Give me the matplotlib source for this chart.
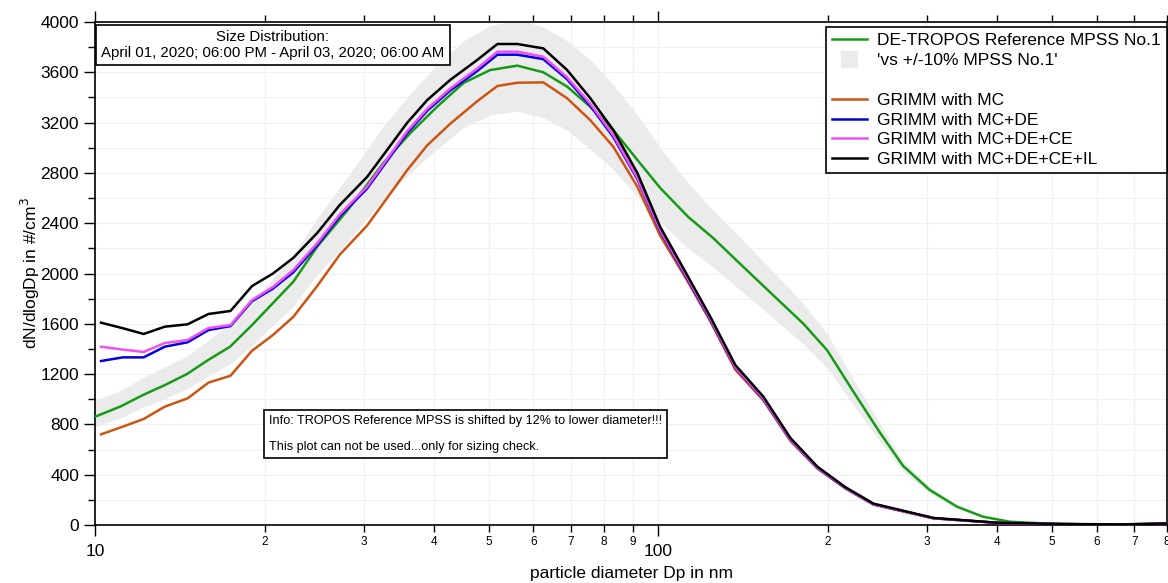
import numpy as np
import matplotlib
matplotlib.use("Agg")
import matplotlib.pyplot as plt
from matplotlib.lines import Line2D
from matplotlib.ticker import LogLocator, FuncFormatter, MultipleLocator

plt.rcParams['font.family'] = ['Liberation Sans', 'DejaVu Sans']

# reference MPSS (smooth curve) and its grey band
x_mpss = [10, 11.08, 12.17, 13.31, 14.57, 15.88, 17.37, 19.0, 20.7, 22.5, 24.8, 28.4, 32.5,
          36.3, 40.5, 45.1, 50.3, 56.2, 62.5, 68.9, 75.7, 83.2, 91.8, 100.8, 113, 125.3, 138,
          158, 181, 199.4, 222, 247, 272, 303, 339, 377, 421, 496, 609, 800]
mpss = [861, 941, 1034, 1113, 1201, 1312, 1418, 1590, 1765, 1935, 2213, 2531, 2879,
        3117, 3327, 3515, 3618, 3653, 3600, 3486, 3327, 3141, 2903, 2680, 2450, 2280, 2100,
        1850, 1600, 1390, 1060, 740, 470, 280, 146, 66, 26, 10, 3, 2]
band_upper = [990, 1070, 1170, 1260, 1340, 1470, 1600, 1780, 1960, 2150, 2440, 2800, 3170,
              3430, 3660, 3850, 3970, 4020, 3960, 3850, 3700, 3500, 3260, 3000, 2720, 2500, 2310,
              2040, 1760, 1520, 1160, 810, 510, 305, 160, 72, 29, 11, 3, 2]
band_lower = [780, 850, 935, 1005, 1085, 1185, 1280, 1430, 1590, 1740, 1990, 2280, 2590,
              2800, 2990, 3160, 3260, 3290, 3240, 3140, 2990, 2830, 2610, 2410, 2200, 2050, 1890,
              1665, 1440, 1250, 955, 670, 425, 252, 131, 59, 23, 9, 3, 2]

# GRIMM channels
x_grimm = [10.25, 11.2, 12.2, 13.3, 14.6, 15.9, 17.4, 19.0, 20.7, 22.5, 24.8, 27.2, 30.4,
           33.0, 35.8, 38.9, 42.7, 47.7, 51.8, 56.2, 62.5, 68.9, 75.7, 83.2, 91.8, 100.8,
           112, 123.7, 137, 153.7, 171.6, 191.6, 215, 241, 308, 400, 518, 662, 800]
grimm_mc = [721, 782, 843, 941, 1007, 1132, 1187, 1386, 1511, 1656, 1900, 2150, 2380,
            2600, 2820, 3020, 3190, 3370, 3491, 3517, 3520, 3393, 3220, 3008, 2690, 2300,
            1960, 1620, 1235, 990, 670, 450, 290, 162, 53, 17, 7, 4, 11]
grimm_mc_de = [1304, 1333, 1333, 1418, 1453, 1550, 1582, 1780, 1880, 2010, 2225, 2455, 2675,
               2895, 3115, 3295, 3455, 3610, 3740, 3740, 3705, 3545, 3335, 3085, 2750, 2335,
               1975, 1632, 1250, 1000, 676, 452, 293, 164, 54, 17, 7, 4, 11]
grimm_mc_de_ce = [1418, 1395, 1376, 1447, 1471, 1566, 1590, 1789, 1893, 2028, 2240, 2470, 2690,
                  2910, 3130, 3310, 3470, 3630, 3764, 3764, 3724, 3560, 3350, 3100, 2760, 2345,
                  1985, 1640, 1255, 1005, 680, 455, 295, 165, 54, 17, 7, 4, 11]
grimm_mc_de_ce_il = [1609, 1565, 1519, 1577, 1596, 1678, 1702, 1900, 2000, 2125, 2322, 2545, 2767,
                     2982, 3197, 3380, 3539, 3698, 3825, 3825, 3790, 3618, 3395, 3141, 2799, 2370,
                     2004, 1656, 1272, 1020, 692, 464, 300, 170, 56, 18, 8, 5, 12]

fig = plt.figure(figsize=(11.68, 5.83), dpi=100)
ax = fig.add_axes([95/1168, 1 - 525/583, (1167 - 95)/1168, (525 - 22)/583])

ax.fill_between(x_mpss, band_lower, band_upper, color='#ebebeb', lw=0, zorder=1)
ax.plot(x_mpss, mpss, color='#169b16', lw=1.8, zorder=3)
ax.plot(x_grimm, grimm_mc, color='#cc5514', lw=1.8, zorder=3)
ax.plot(x_grimm, grimm_mc_de, color='#0000e0', lw=1.8, zorder=3)
ax.plot(x_grimm, grimm_mc_de_ce, color='#f050f0', lw=1.8, zorder=4)
ax.plot(x_grimm, grimm_mc_de_ce_il, color='black', lw=1.8, zorder=5)

ax.set_xscale('log')
ax.set_xlim(10, 800)
ax.set_ylim(0, 4000)

# ticks
ax.xaxis.set_major_locator(LogLocator(base=10, subs=(1.0,)))
ax.xaxis.set_minor_locator(LogLocator(base=10, subs=np.arange(2, 10)))
ax.xaxis.set_major_formatter(FuncFormatter(lambda v, p: '%d' % round(v)))
ax.xaxis.set_minor_formatter(FuncFormatter(lambda v, p: '%d' % round(v / 10 ** np.floor(np.log10(v) + 1e-9))))
ax.yaxis.set_major_locator(MultipleLocator(400))
ax.yaxis.set_minor_locator(MultipleLocator(200))
ax.tick_params(axis='both', which='major', direction='out', length=8, width=1, labelsize=12.5)
ax.tick_params(axis='x', which='major', pad=6)
ax.tick_params(axis='both', which='minor', direction='out', length=5, width=1)
ax.tick_params(axis='x', which='minor', labelsize=8.5, pad=3)
ax.tick_params(axis='x', which='both', top=True)
ax.tick_params(axis='y', which='both', right=False, left=True)

ax.grid(True, which='both', color='#f0f0f0', lw=0.8, zorder=0)
ax.set_axisbelow(True)
for s in ax.spines.values():
    s.set_linewidth(1.2)

ax.set_xlabel('particle diameter Dp in nm', fontsize=12.5, labelpad=5)
ax.set_ylabel('dN/dlogDp in #/cm$^3$', fontsize=12.5, labelpad=-1)

# title box
ax.text(0.166, 0.954, 'Size Distribution:\nApril 01, 2020; 06:00 PM - April 03, 2020; 06:00 AM',
        transform=ax.transAxes, ha='center', va='center', multialignment='center', fontsize=10.8,
        bbox=dict(boxstyle='square,pad=0.35', fc='white', ec='black', lw=1.2), zorder=6)

# info box
ax.text(0.162, 0.181, 'Info: TROPOS Reference MPSS is shifted by 12% to lower diameter!!!\n\n'
        'This plot can not be used...only for sizing check.',
        transform=ax.transAxes, ha='left', va='center', fontsize=9.1, linespacing=1.1,
        bbox=dict(boxstyle='square,pad=0.4', fc='white', ec='black', lw=1.2), zorder=6)

handles = [
    Line2D([], [], color='#169b16', lw=1.8, label='DE-TROPOS Reference MPSS No.1'),
    Line2D([], [], color='#ebebeb', marker='s', ms=12, ls='none', label="'vs +/-10% MPSS No.1'"),
    Line2D([], [], color='none', label=' '),
    Line2D([], [], color='#cc5514', lw=1.8, label='GRIMM with MC'),
    Line2D([], [], color='#0000e0', lw=1.8, label='GRIMM with MC+DE'),
    Line2D([], [], color='#f050f0', lw=1.8, label='GRIMM with MC+DE+CE'),
    Line2D([], [], color='black', lw=1.8, label='GRIMM with MC+DE+CE+IL'),
]
leg = ax.legend(handles=handles, loc='upper right', bbox_to_anchor=(1.0, 0.99), fontsize=12.5,
                frameon=True, fancybox=False, framealpha=1, edgecolor='black',
                handlelength=2.0, handletextpad=0.6, labelspacing=0.27, borderpad=0.35,
                borderaxespad=0)
leg.get_frame().set_linewidth(1.2)
leg.set_zorder(7)

fig.savefig('out.png', dpi=100)
